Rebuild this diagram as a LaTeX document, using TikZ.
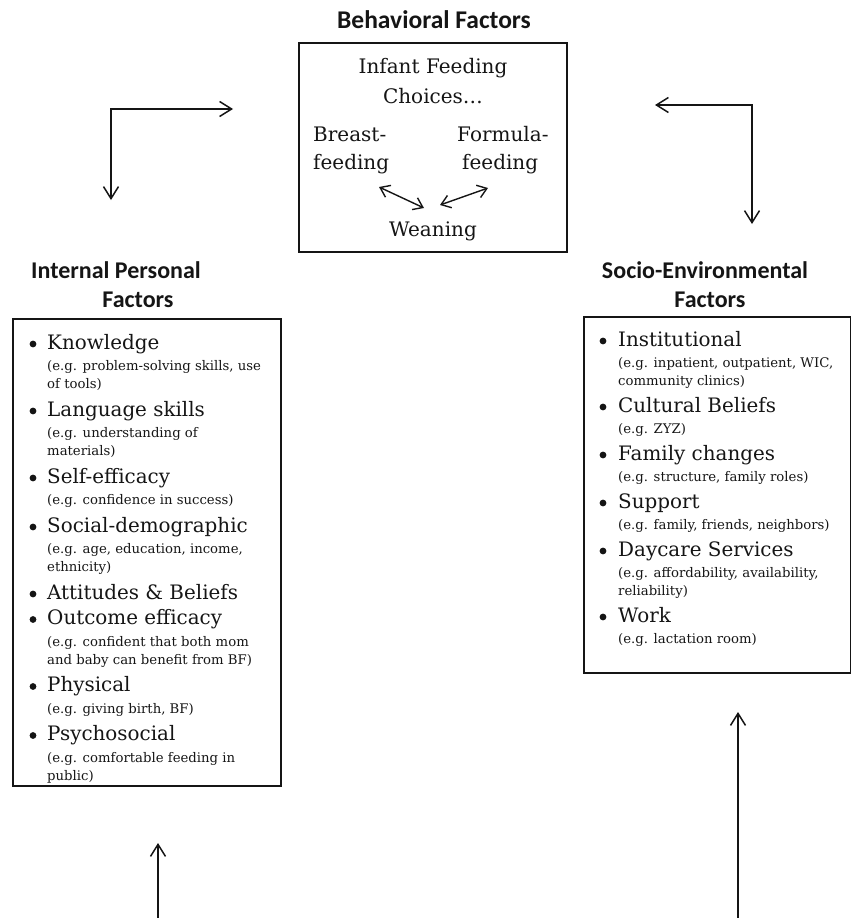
\documentclass[tikz,border=0pt]{standalone}
\usepackage{fontspec}
\setmainfont{DejaVu Serif}
\newfontfamily\titlefont{Carlito}
\usetikzlibrary{arrows.meta}
\newcommand\bigf{\fontsize{19.9}{23}\selectfont}
\newcommand\smallf{\fontsize{13.25}{15}\selectfont}
\newcommand\midf{\fontsize{20}{24}\selectfont}
\newcommand\ttlf{\titlefont\bfseries\fontsize{24}{28}\selectfont}
\newcommand\ttlbf{\titlefont\bfseries\fontsize{25.5}{30}\selectfont}
\definecolor{ink}{HTML}{151515}
\begin{document}
\begin{tikzpicture}[x=1pt,y=-1pt,
  big/.style={anchor=base west, inner sep=0pt, font=\bigf, text=ink},
  sm/.style={anchor=base west, inner sep=0pt, font=\smallf, text=ink},
  mid/.style={anchor=base, inner sep=0pt, font=\midf, text=ink},
  midw/.style={anchor=base west, inner sep=0pt, font=\midf, text=ink},
  ttl/.style={anchor=base, inner sep=0pt, font=\ttlf, text=ink},
  boxst/.style={draw=ink, line width=1.5pt, anchor=north west, inner sep=0pt, outer sep=0pt},
  arr/.style={draw=ink, line width=1.5pt, {Straight Barb[length=12pt,width=15pt,line width=1.5pt]}-{Straight Barb[length=12pt,width=15pt,line width=1.5pt]}},
  uparr/.style={draw=ink, line width=1.5pt, -{Straight Barb[length=12pt,width=15pt,line width=1.5pt]}},
  smarr/.style={draw=ink, line width=1.4pt, {Straight Barb[length=9pt,width=13pt,line width=1.4pt]}-{Straight Barb[length=9pt,width=13pt,line width=1.4pt]}},
  bul/.style={fill=ink}
]
\useasboundingbox (0,0) rectangle (851,918);

% ---------- centre box ----------
\node[ttl, font=\ttlbf] (tb) at (434,28) {Behavioral Factors};
\node[boxst, minimum width=268pt, minimum height=209pt] (cbox) at (299,43) {};
\node[mid] (cf1) at (433,73) {Infant Feeding};
\node[mid] (cf2) at (433,103) {Choices…};
\node[midw] (bf1) at (313,141) {Breast-};
\node[midw] (bf2) at (313,169) {feeding};
\node[midw] (ff1) at (457,141) {Formula-};
\node[midw] (ff2) at (462,169) {feeding};
\node[mid] (wn) at (433,236) {Weaning};
\coordinate (la1) at (379,187);
\coordinate (la2) at (424,208);
\coordinate (ra1) at (488,188);
\coordinate (ra2) at (440,205);
\draw[smarr] (la1) -- (la2);
\draw[smarr] (ra1) -- (ra2);

% ---------- elbow arrows ----------
\coordinate (tlA) at (233,109);
\coordinate (tlC) at (111,109);
\coordinate (tlB) at (111,200);
\draw[arr] (tlA) -- (tlC) -- (tlB);
\coordinate (trA) at (655,105);
\coordinate (trC) at (752,105);
\coordinate (trB) at (752,224);
\draw[arr] (trA) -- (trC) -- (trB);

% ---------- left box ----------
\node[ttl] (tl1) at (116,278) {Internal Personal};
\node[ttl] (tl2) at (138,307) {Factors};
\node[boxst, minimum width=268pt, minimum height=467pt] (lbox) at (13,319) {};

\node[big] (k0) at (47,349) {Knowledge};
\node[sm] (k1) at (47,370.5) {(e.g. problem-solving skills, use};
\node[sm] (k2) at (47,388.5) {of tools)};
\node[big] (l0) at (47,416) {Language skills};
\node[sm] (l1) at (47,437.5) {(e.g. understanding of};
\node[sm] (l2) at (47,455.5) {materials)};
\node[big] (s0) at (47,483) {Self-efficacy};
\node[sm] (s1) at (47,504.5) {(e.g. confidence in success)};
\node[big] (d0) at (47,532) {Social-demographic};
\node[sm] (d1) at (47,553.5) {(e.g. age, education, income,};
\node[sm] (d2) at (47,571.5) {ethnicity)};
\node[big] (a0) at (47,599) {Attitudes \& Beliefs};
\node[big] (o0) at (47,624.5) {Outcome efficacy};
\node[sm] (o1) at (47,646) {(e.g. confident that both mom};
\node[sm] (o2) at (47,664) {and baby can benefit from BF)};
\node[big] (p0) at (47,691.5) {Physical};
\node[sm] (p1) at (47,713) {(e.g. giving birth, BF)};
\node[big] (q0) at (47,740.5) {Psychosocial};
\node[sm] (q1) at (47,762) {(e.g. comfortable feeding in};
\node[sm] (q2) at (47,780) {public)};
\foreach \yy in {344,411,478,527,594,619.5,686.5,735.5}
  \fill[bul] (33,\yy) circle (3.4);

% ---------- right box ----------
\node[ttl] (tr1) at (705,278) {Socio-Environmental};
\node[ttl] (tr2) at (710,307) {Factors};
\node[boxst, minimum width=267pt, minimum height=356pt] (rbox) at (584,317) {};

\node[big] (i0) at (618,346) {Institutional};
\node[sm] (i1) at (618,367) {(e.g. inpatient, outpatient, WIC,};
\node[sm] (i2) at (618,385) {community clinics)};
\node[big] (c0) at (618,412) {Cultural Beliefs};
\node[sm] (c1) at (618,433) {(e.g. ZYZ)};
\node[big] (f0) at (618,460) {Family changes};
\node[sm] (f1) at (618,481) {(e.g. structure, family roles)};
\node[big] (u0) at (618,508) {Support};
\node[sm] (u1) at (618,529) {(e.g. family, friends, neighbors)};
\node[big] (y0) at (618,556) {Daycare Services};
\node[sm] (y1) at (618,577) {(e.g. affordability, availability,};
\node[sm] (y2) at (618,595) {reliability)};
\node[big] (w0) at (618,622) {Work};
\node[sm] (w1) at (618,643) {(e.g. lactation room)};
\foreach \yy in {341,407,455,503,551,617}
  \fill[bul] (603,\yy) circle (3.4);

% ---------- bottom arrows ----------
\coordinate (blS) at (158,918);
\coordinate (blT) at (158,843);
\draw[uparr] (blS) -- (blT);
\coordinate (brS) at (738,918);
\coordinate (brT) at (738,712);
\draw[uparr] (brS) -- (brT);
\end{tikzpicture}
\end{document}
